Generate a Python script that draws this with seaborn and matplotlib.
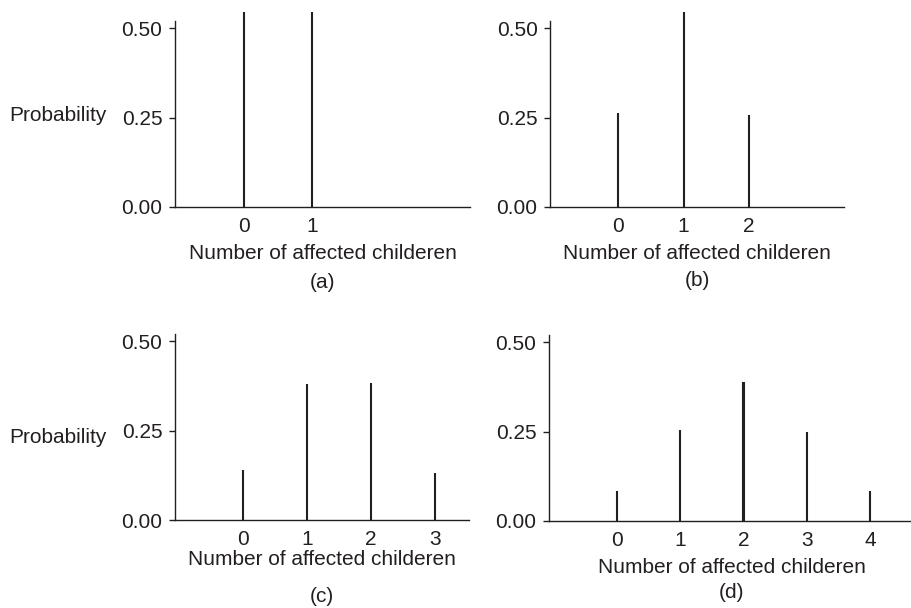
import matplotlib
matplotlib.use("Agg")
import matplotlib.pyplot as plt
import seaborn as sns
import pandas as pd

# ---- data ----
counts_a = [0, 1]
prob_a = [0.545, 0.545]
counts_b = [0, 1, 2]
prob_b = [0.263, 0.547, 0.259]
counts_c = [0, 1, 2, 3]
prob_c = [0.140, 0.381, 0.384, 0.133]
counts_d = [0, 1, 2, 3, 4]
prob_d = [0.085, 0.255, 0.386, 0.250, 0.085]
panel_labels = ["(a)", "(b)", "(c)", "(d)"]
ytick_vals = [0.0, 0.25, 0.5]
ytick_labels = ["0.00", "0.25", "0.50"]
xlabel_text = "Number of affected childeren"
ylabel_text = "Probability"

sns.set_theme(style="ticks")
plt.rcParams["font.family"] = ["Liberation Sans", "DejaVu Sans"]
INK = "#231f20"
plt.rcParams["text.color"] = INK
plt.rcParams["axes.labelcolor"] = INK
plt.rcParams["xtick.color"] = INK
plt.rcParams["ytick.color"] = INK

W, H = 911, 608
fig = plt.figure(figsize=(W / 100, H / 100), dpi=100)

FS = 15

panels = [
    dict(k=counts_a, p=prob_a, left=175, right=470, y0=207, xlim=(-1.015, 3.32),
         ylab=0.43, xoff=52, poff=76),
    dict(k=counts_b, p=prob_b, left=550, right=844, y0=207, xlim=(-1.04, 3.45),
         ylab=None, xoff=52, poff=73),
    dict(k=counts_c, p=prob_c, left=175, right=469, y0=520, xlim=(-1.06, 3.53),
         ylab=0.383, xoff=45, poff=76),
    dict(k=counts_d, p=prob_d, left=549, right=915, y0=521, xlim=(-1.075, 4.71),
         ylab=None, xoff=52, poff=72),
]

HPX = 200.0
for lab, pn in zip(panel_labels, panels):
    ax = fig.add_axes([pn["left"] / W, (H - pn["y0"]) / H,
                       (pn["right"] - pn["left"]) / W, HPX / H])
    df = pd.DataFrame({"k": pn["k"], "p": pn["p"]})
    sns.barplot(data=df, x="k", y="p", native_scale=True, width=0.002,
                color=INK, saturation=1, linewidth=1.5, edgecolor=INK, ax=ax)
    ax.set_xlim(*pn["xlim"])
    ax.set_ylim(0, 0.56)
    sns.despine(ax=ax)
    ax.spines["left"].set_bounds(0, 0.52)
    for s in ("left", "bottom"):
        ax.spines[s].set_color(INK)
        ax.spines[s].set_linewidth(1.0)
        ax.spines[s].set_zorder(5)
    ax.set_yticks(ytick_vals)
    ax.set_yticklabels(ytick_labels)
    ax.set_xticks(pn["k"])
    ax.set_xticklabels([str(v) for v in pn["k"]])
    ax.tick_params(axis="y", length=4, width=1.0, pad=5, labelsize=FS)
    ax.tick_params(axis="x", length=0, pad=7, labelsize=FS)
    ax.set_xlabel(xlabel_text, fontsize=FS)
    ax.xaxis.set_label_coords(0.5, -pn["xoff"] / HPX)
    ax.xaxis.label.set_va("baseline")
    if pn["ylab"] is not None:
        ax.set_ylabel(ylabel_text, fontsize=FS, rotation=0, ha="right", va="baseline")
        ax.yaxis.set_label_coords(-68 / (pn["right"] - pn["left"]), pn["ylab"])
    else:
        ax.set_ylabel("")
    ax.text(0.5, -pn["poff"] / HPX, lab, transform=ax.transAxes,
            ha="center", va="center", fontsize=FS, color=INK)
    ax.set_facecolor("white")

fig.savefig("out.png", dpi=100, facecolor="white")
